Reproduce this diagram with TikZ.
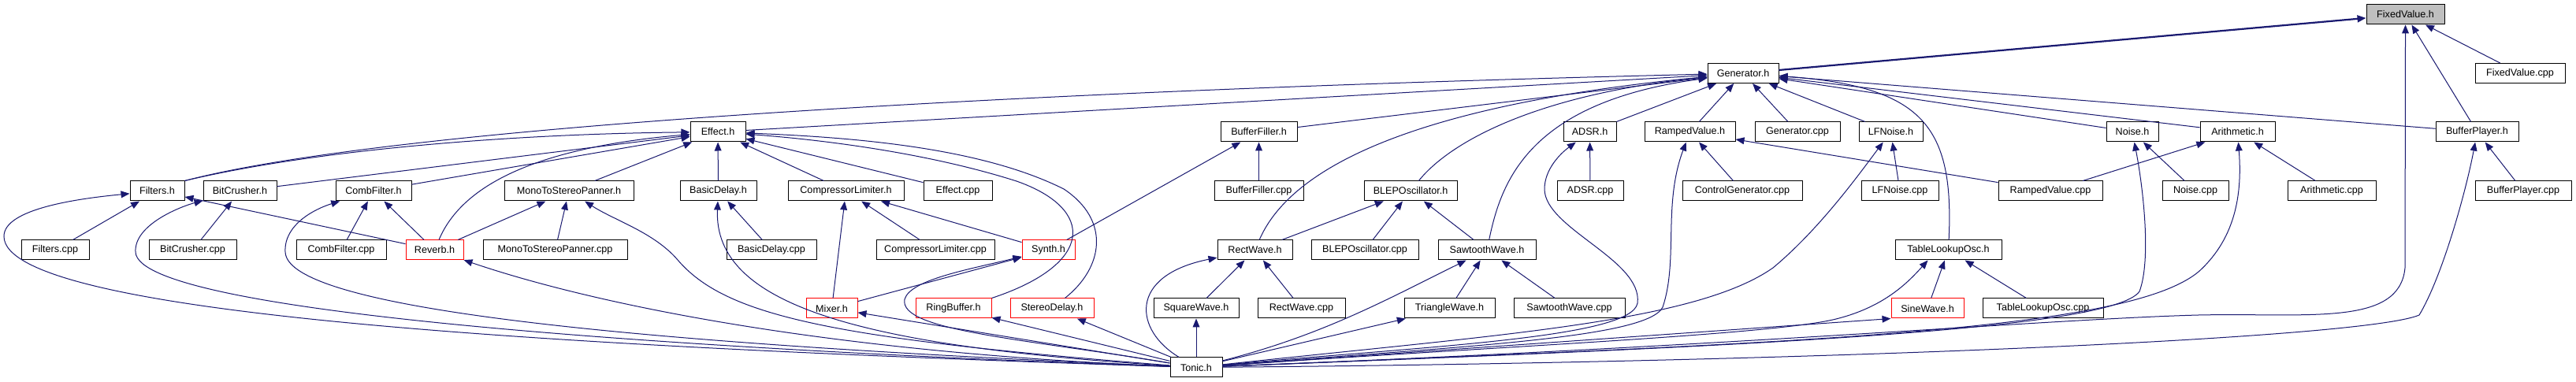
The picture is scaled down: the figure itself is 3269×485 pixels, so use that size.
\documentclass[tikz,border=0pt]{standalone}
\usepackage{fontspec}
\setmainfont{Liberation Sans}
\usetikzlibrary{arrows.meta}
\definecolor{edgec}{HTML}{191970}
\definecolor{redc}{HTML}{FF0000}
\definecolor{grayc}{HTML}{BFBFBF}
\newcommand\mkbox[6]{\node[dbox,#6,minimum width={(#3-#2)*0.5pt}] (#1) at ({(#2+#3)/2},#4) {#5};}
\begin{document}
\begin{tikzpicture}[x=0.5pt,y=-0.5pt,
 dbox/.style={draw=black,fill=white,line width=0.5pt,inner sep=0pt,minimum height=12.5pt,font=\fontsize{6.3pt}{7.5pt}\selectfont},
 redb/.style={draw=redc},
 grayb/.style={fill=grayc},
 dep/.style={draw=edgec,line width=0.5pt,-{Triangle[length=5.5pt,width=4.4pt]}},
]
\fill[white] (0,0) rectangle (3269,485);
\useasboundingbox (0,0) rectangle (3269,485);
% row A
\mkbox{fixv}{3003}{3102}{18.5}{FixedValue.h}{grayb}
% row B
\mkbox{gen}{2167}{2257}{93}{Generator.h}{}
\mkbox{fixvcpp}{3141}{3255}{93}{FixedValue.cpp}{}
% row C
\mkbox{effect}{876}{946}{167.5}{Effect.h}{}
\mkbox{bfill}{1549}{1646}{167.5}{BufferFiller.h}{}
\mkbox{adsr}{1984}{2051}{167.5}{ADSR.h}{}
\mkbox{rv}{2087}{2202}{167.5}{RampedValue.h}{}
\mkbox{gencpp}{2227}{2335}{167.5}{Generator.cpp}{}
\mkbox{lfn}{2359}{2440}{167.5}{LFNoise.h}{}
\mkbox{noise}{2673}{2739}{167.5}{Noise.h}{}
\mkbox{arith}{2792}{2887}{167.5}{Arithmetic.h}{}
\mkbox{bplay}{3091}{3196}{167.5}{BufferPlayer.h}{}
% row D
\mkbox{filters}{165}{234}{242.5}{Filters.h}{}
\mkbox{bitc}{258}{351}{242.5}{BitCrusher.h}{}
\mkbox{combf}{426}{522}{242.5}{CombFilter.h}{}
\mkbox{mono}{640}{804}{242.5}{MonoToStereoPanner.h}{}
\mkbox{bdelay}{863}{960}{242.5}{BasicDelay.h}{}
\mkbox{comp}{1000}{1147}{242.5}{CompressorLimiter.h}{}
\mkbox{effcpp}{1172}{1259}{242.5}{Effect.cpp}{}
\mkbox{bfcpp}{1541}{1654}{242.5}{BufferFiller.cpp}{}
\mkbox{blep}{1731}{1849}{242.5}{BLEPOscillator.h}{}
\mkbox{adsrcpp}{1976}{2060}{242.5}{ADSR.cpp}{}
\mkbox{ctrl}{2135}{2287}{242.5}{ControlGenerator.cpp}{}
\mkbox{lfcpp}{2362}{2460}{242.5}{LFNoise.cpp}{}
\mkbox{rvcpp}{2536}{2668}{242.5}{RampedValue.cpp}{}
\mkbox{ncpp}{2744}{2828}{242.5}{Noise.cpp}{}
\mkbox{acpp}{2903}{3015}{242.5}{Arithmetic.cpp}{}
\mkbox{bpcpp}{3141}{3263}{242.5}{BufferPlayer.cpp}{}
% row E
\mkbox{filtcpp}{27}{113}{317.5}{Filters.cpp}{}
\mkbox{bitcpp}{189}{300}{317.5}{BitCrusher.cpp}{}
\mkbox{combcpp}{376}{490}{317.5}{CombFilter.cpp}{}
\mkbox{reverb}{515}{588}{317.5}{Reverb.h}{redb}
\mkbox{monocpp}{613}{796}{317.5}{MonoToStereoPanner.cpp}{}
\mkbox{bdcpp}{922}{1036}{317.5}{BasicDelay.cpp}{}
\mkbox{compcpp}{1112}{1262}{317.5}{CompressorLimiter.cpp}{}
\mkbox{synth}{1297}{1364}{317.5}{Synth.h}{redb}
\mkbox{rectw}{1545}{1640}{317.5}{RectWave.h}{}
\mkbox{blepcpp}{1664}{1800}{317.5}{BLEPOscillator.cpp}{}
\mkbox{saw}{1825}{1949}{317.5}{SawtoothWave.h}{}
\mkbox{tlo}{2405}{2540}{317.5}{TableLookupOsc.h}{}
% row F
\mkbox{mixer}{1023}{1088}{391.5}{Mixer.h}{redb}
\mkbox{ringb}{1162}{1258}{391.5}{RingBuffer.h}{redb}
\mkbox{stereo}{1282}{1388}{391.5}{StereoDelay.h}{redb}
\mkbox{sqw}{1464}{1572}{391.5}{SquareWave.h}{}
\mkbox{rwcpp}{1596}{1707}{391.5}{RectWave.cpp}{}
\mkbox{tri}{1782}{1897}{391.5}{TriangleWave.h}{}
\mkbox{sawcpp}{1921}{2062}{391.5}{SawtoothWave.cpp}{}
\mkbox{sine}{2400}{2492}{391.5}{SineWave.h}{redb}
\mkbox{tlocpp}{2516}{2669}{391.5}{TableLookupOsc.cpp}{}
% row G
\mkbox{tonic}{1485}{1551}{466.5}{Tonic.h}{}

% ---- edges to FixedValue.h
\draw[dep,line width=1.1pt] (gen) -- (fixv);
\draw[dep] (tonic) .. controls (2200,440) and (2600,405) .. (2790,400) .. controls (2930,397) and (3045,415) .. (3052,340) -- (fixv.south);
\draw[dep] (bplay) -- (fixv);
\draw[dep] (fixvcpp) -- (fixv);
% ---- edges to Generator.h
\draw[dep] (filters.north east) .. controls (500,160) and (1300,115) .. (gen);
\draw[dep] (effect) -- (gen);
\draw[dep] (bfill) -- (gen);
\draw[dep] (rectw) .. controls (1650,185) and (1880,125) .. (gen);
\draw[dep] (blep) .. controls (1840,180) and (1950,120) .. (gen);
\draw[dep] (saw) .. controls (1905,230) and (1940,130) .. (gen);
\draw[dep] (adsr) -- (gen);
\draw[dep] (rv) -- (gen);
\draw[dep] (gencpp) -- (gen);
\draw[dep] (lfn) -- (gen);
\draw[dep] (tlo) .. controls (2480,160) and (2440,110) .. (gen);
\draw[dep] (noise) -- (gen);
\draw[dep] (arith) -- (gen);
\draw[dep] (bplay) -- (gen);
% ---- edges to Effect.h
\draw[dep] (filters.north east) .. controls (400,190) and (650,170) .. (effect);
\draw[dep] (bitc) -- (effect);
\draw[dep] (combf) -- (effect);
\draw[dep] (reverb) .. controls (580,250) and (650,190) .. (effect);
\draw[dep] (mono) -- (effect);
\draw[dep] (bdelay) -- (effect);
\draw[dep] (comp) -- (effect);
\draw[dep] (effcpp) -- (effect);
\draw[dep] (ringb.north east) .. controls (1390,335) and (1390,265) .. (1290,230) .. controls (1180,195) and (1050,178) .. (effect);
\draw[dep] (stereo) .. controls (1400,340) and (1410,280) .. (1350,240) .. controls (1250,190) and (1100,175) .. (effect);
% ---- short edges
\draw[dep] (filtcpp) -- (filters);
\draw[dep] (bitcpp) -- (bitc);
\draw[dep] (combcpp) -- (combf);
\draw[dep] (reverb) -- (combf);
\draw[dep] (reverb) -- (filters);
\draw[dep] (reverb) -- (mono);
\draw[dep] (monocpp) -- (mono);
\draw[dep] (bdcpp) -- (bdelay);
\draw[dep] (compcpp) -- (comp);
\draw[dep] (synth) -- (comp);
\draw[dep] (mixer) -- (comp);
\draw[dep] (mixer) -- (synth);
\draw[dep] (synth) -- (bfill);
\draw[dep] (bfcpp) -- (bfill);
\draw[dep] (sqw) -- (rectw);
\draw[dep] (rwcpp) -- (rectw);
\draw[dep] (rectw) -- (blep);
\draw[dep] (blepcpp) -- (blep);
\draw[dep] (saw) -- (blep);
\draw[dep] (tri) -- (saw);
\draw[dep] (sawcpp) -- (saw);
\draw[dep] (adsrcpp) -- (adsr);
\draw[dep] (ctrl) -- (rv);
\draw[dep] (rvcpp) -- (rv);
\draw[dep] (rvcpp) -- (arith);
\draw[dep] (lfcpp) -- (lfn);
\draw[dep] (ncpp) -- (noise);
\draw[dep] (acpp) -- (arith);
\draw[dep] (bpcpp) -- (bplay);
\draw[dep] (sine) -- (tlo);
\draw[dep] (tlocpp) -- (tlo);
% ---- edges from Tonic.h (left)
\draw[dep] (tonic) .. controls (700,440) and (5,400) .. (5,300) .. controls (5,265) and (100,252) .. (filters);
\draw[dep] (tonic) .. controls (900,445) and (175,400) .. (172,320) .. controls (170,285) and (230,262) .. (bitc);
\draw[dep] (tonic) .. controls (900,440) and (365,400) .. (362,320) .. controls (360,285) and (400,265) .. (combf);
\draw[dep] (tonic) .. controls (1000,445) and (720,375) .. (reverb);
\draw[dep] (tonic) .. controls (1050,430) and (920,400) .. (860,330) .. controls (830,295) and (780,280) .. (mono);
\draw[dep] (tonic) .. controls (1100,440) and (905,390) .. (bdelay);
\draw[dep] (tonic) -- (mixer);
\draw[dep] (tonic) .. controls (1300,430) and (1140,420) .. (1148,380) .. controls (1155,355) and (1230,342) .. (synth);
\draw[dep] (tonic) -- (ringb);
\draw[dep] (tonic) -- (stereo);
\draw[dep] (tonic) -- (sqw);
\draw[dep] (tonic) .. controls (1440,420) and (1430,350) .. (rectw);
% ---- edges from Tonic.h (right)
\draw[dep] (tonic) .. controls (1680,425) and (1760,380) .. (saw);
\draw[dep] (tonic) -- (tri);
\draw[dep] (tonic) .. controls (1800,440) and (2070,430) .. (2078,385) .. controls (2085,330) and (1960,290) .. (1960,240) .. controls (1960,215) and (1980,195) .. (adsr);
\draw[dep] (tonic) .. controls (1850,440) and (2090,430) .. (2110,390) .. controls (2130,330) and (2110,260) .. (rv);
\draw[dep] (tonic) .. controls (1900,425) and (2150,410) .. (2250,340) .. controls (2310,290) and (2360,220) .. (lfn);
\draw[dep] (tonic) -- (sine.south west);
\draw[dep] (tonic) .. controls (1900,440) and (2250,425) .. (2330,405) .. controls (2390,390) and (2420,360) .. ([xshift=-13pt]tlo.south);
\draw[dep] (tonic) .. controls (2200,440) and (2680,420) .. (2715,370) .. controls (2730,330) and (2720,240) .. (noise);
\draw[dep] (tonic) .. controls (2300,435) and (2700,420) .. (2790,345) .. controls (2840,300) and (2845,240) .. (arith);
\draw[dep] (tonic) .. controls (2300,460) and (3000,430) .. (3070,400) .. controls (3100,350) and (3130,240) .. (bplay);
\end{tikzpicture}
\end{document}
